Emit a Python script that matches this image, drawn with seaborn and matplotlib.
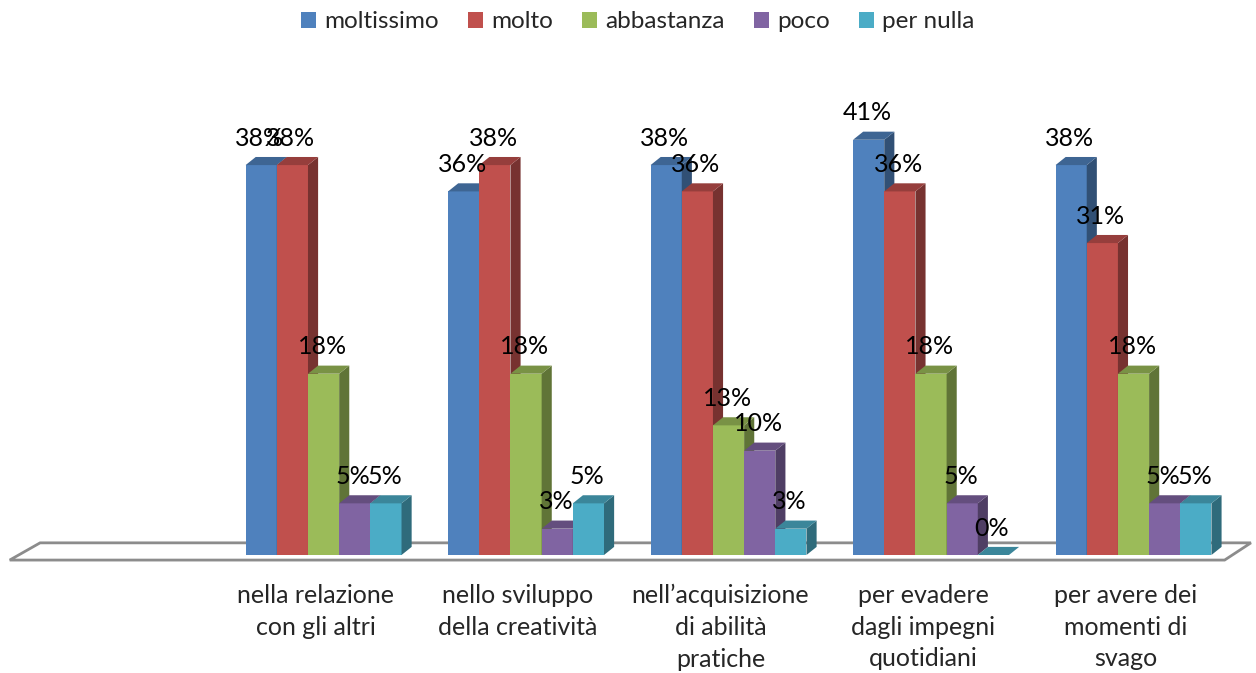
import numpy as np
import pandas as pd
import matplotlib
matplotlib.use("Agg")
import matplotlib.pyplot as plt
from matplotlib.patches import Polygon, Patch
from matplotlib.transforms import ScaledTranslation
import matplotlib.colors as mcolors
import seaborn as sns

sns.set_theme(style="white")
plt.rcParams['font.family'] = ['Lato', 'DejaVu Sans']

# data (share of 39 answers, in %)
categories = ["", "nella relazione\ncon gli altri", "nello sviluppo\ndella creatività",
              "nell’acquisizione\ndi abilità\npratiche", "per evadere\ndagli impegni\nquotidiani",
              "per avere dei\nmomenti di\nsvago"]
levels = ["moltissimo", "molto", "abbastanza", "poco", "per nulla"]
moltissimo = [38.5, 35.9, 38.5, 41.0, 38.5]
molto = [38.5, 38.5, 35.9, 35.9, 30.8]
abbastanza = [17.9, 17.9, 12.8, 17.9, 17.9]
poco = [5.1, 2.6, 10.3, 5.1, 5.1]
per_nulla = [5.1, 5.1, 2.6, 0.0, 5.1]
colors = ["#4F81BD", "#C0504D", "#9BBB59", "#8064A2", "#4BACC6"]

rows = []
for lev, vals in zip(levels, [moltissimo, molto, abbastanza, poco, per_nulla]):
    for cat, v in zip(categories[1:], vals):
        rows.append({"cat": cat, "level": lev, "pct": v})
df = pd.DataFrame(rows)

fig = plt.figure(figsize=(12.56, 6.73), dpi=100)
ax = fig.add_axes([0, 118 / 673, 1, 555 / 673])
sns.barplot(data=df, x="cat", y="pct", hue="level", order=categories, hue_order=levels,
            palette=colors, saturation=1, width=0.77, errorbar=None, legend=False, ax=ax)

ax.set_xlim(-0.598, 5.605)
ax.set_ylim(0, 54.8)

def shade(c, f):
    r, g, b = mcolors.to_rgb(c)
    return (r * f, g * f, b * f)

dx, dy = 0.05, 0.8
bars = sorted([p for p in ax.patches], key=lambda p: p.get_x())
for i, p in enumerate(bars):
    x0, w, h = p.get_x(), p.get_width(), p.get_height()
    x1 = x0 + w
    base = p.get_facecolor()
    z = 3 + 3 * i
    p.set_zorder(z)
    p.set_edgecolor("none")
    side = Polygon([(x1, 0), (x1 + dx, dy), (x1 + dx, h + dy), (x1, h)],
                   closed=True, facecolor=shade(base, 0.62), edgecolor="none", zorder=z + 1)
    top = Polygon([(x0, h), (x0 + dx, h + dy), (x1 + dx, h + dy), (x1, h)],
                  closed=True, facecolor=shade(base, 0.78), edgecolor="none", zorder=z + 2)
    ax.add_patch(side)
    ax.add_patch(top)
    ax.annotate(f"{h:.0f}%", (x0 + w / 2, h), xytext=(-1, 14), textcoords="offset points",
                ha="center", va="baseline", fontsize=18, color="black", zorder=1000)

# floor
floor = Polygon([(-0.55, -0.5), (5.45, -0.5), (5.58, 1.2), (-0.4, 1.2)], closed=True,
                facecolor="white", edgecolor="#8c8c8c", lw=2, zorder=1, clip_on=False)
ax.add_patch(floor)

ax.set_xlabel("")
ax.set_ylabel("")
ax.set_yticks([])
ax.tick_params(axis="x", length=0, pad=21, labelsize=18)
ax.set_xticks(range(len(categories)))
ax.set_xticklabels(categories, linespacing=1.45)
shift = ScaledTranslation(-8 / 100, 0, fig.dpi_scale_trans)
for lab in ax.get_xticklabels():
    lab.set_transform(lab.get_transform() + shift)
for s in ax.spines.values():
    s.set_visible(False)

handles = [Patch(facecolor=c, edgecolor="none") for c in colors]
fig.legend(handles, levels, loc="center", bbox_to_anchor=(0.508, 1 - 22 / 673), ncol=5,
           frameon=False, fontsize=17.5, handlelength=0.6, handleheight=0.6,
           handletextpad=0.35, columnspacing=1.2)

fig.savefig("out.png", dpi=100)
